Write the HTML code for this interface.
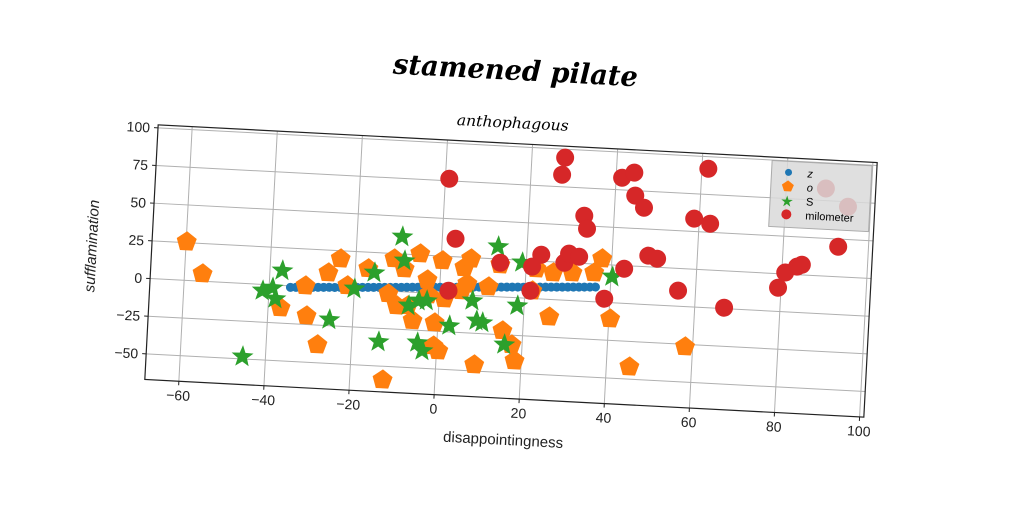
<!DOCTYPE html>
<html><head><meta charset="utf-8"><style>
html,body{margin:0;padding:0;background:#fff;width:1024px;height:512px;overflow:hidden}
text{font-family:"Liberation Sans","DejaVu Sans",sans-serif}
text.script{font-family:"DejaVu Serif","Liberation Serif",serif;font-style:italic}
</style></head><body>
<svg id="chart" width="1024" height="512" xmlns="http://www.w3.org/2000/svg">
<g id="root" transform="rotate(3,511,271)">
<text class="script" x="505" y="80" text-anchor="middle" font-weight="bold" font-size="28" textLength="245" lengthAdjust="spacingAndGlyphs">stamened pilate</text>
<text class="script" x="505" y="128" text-anchor="middle" font-size="15" textLength="112" lengthAdjust="spacingAndGlyphs">anthophagous</text>
<g id="grid"></g>
<g id="marks"></g>
<rect x="151" y="143.5" width="720" height="255" fill="none" stroke="#222" stroke-width="1.2"/>
<g id="ticks"></g>
<text x="512" y="445" text-anchor="middle" font-size="15" fill="#222">disappointingness</text>
<text transform="translate(96,268) rotate(-90)" text-anchor="middle" font-size="15" font-style="italic" fill="#222">sufflamination</text>
<g>
<rect x="766" y="147" width="100" height="66" fill="#d9d9d9" fill-opacity="0.85" stroke="#aaa"/>
<circle cx="783" cy="158" r="3.5" fill="#1f77b4"/>
<text x="802" y="162" font-size="11" font-style="italic">z</text>
<polygon points="783,166 789,170.5 786.5,177 779.5,177 777,170.5" fill="#ff7f0e"/>
<text x="802" y="176" font-size="11" font-style="italic">o</text>
<text x="783" y="192" font-size="15" fill="#2ca02c" text-anchor="middle">★</text>
<text x="802" y="190" font-size="11">S</text>
<circle cx="783" cy="200" r="5" fill="#d62728"/>
<text x="802" y="204" font-size="11">milometer</text>
</g>
</g>
</svg>
<script>
const xTicks=[-60,-40,-20,0,20,40,60,80,100];
const yTicks=[-50,-25,0,25,50,75,100];
const zX=[-35,-33.7,-32.4,-31.1,-29.8,-28.5,-27.2,-25.9,-24.6,-23.3,-22,-20.7,-19.4,-18.1,-16.8,-15.5,-14.2,-12.9,-11.6,-10.3,-9,-7.7,-6.4,-5.1,-3.8,-2.5,-1.2,0.1,1.4,2.7,4,5.3,6.6,7.9,9.2,10.5,11.8,13.1,14.4,15.7,17,18.3,19.6,20.9,22.2,23.5,24.8,26.1,27.4,28.7,30,31.3,32.6,33.9,35.2,36.5];
const zY=[-1,-0.8,-0.6,-0.4,-0.2,0,0.2,0.4,0.5,0.7,0.9,1.1,1.3,1.5,1.7,1.9,2.1,2.3,2.5,2.7,2.9,3.1,3.3,3.5,3.7,3.9,4.1,4.3,4.5,4.7,4.9,5.1,5.3,5.5,5.7,5.9,6.1,6.3,6.5,6.7,6.9,7.1,7.2,7.4,7.6,7.8,8,8.2,8.4,8.6,8.8,9,9.2,9.4,9.6,9.8];
const oX=[-59.9,-55.8,-37.1,-31.5,-30.9,-28,-26.3,-23.6,-21.7,-17,-12.3,-12,-11,-9.9,-7.3,-5,-3,-2.6,-0.8,-0.8,0.4,0.3,5.1,5.5,6.4,7,9,11.4,13.9,15.2,17.5,18.4,22.4,26,26.4,30.9,36,40.3,45.4,58.2,-8.5,1.2,-6,21.7,37.7];
const oY=[25.6,5,-14.8,0.6,-19.2,-38,10,19.7,2.1,14.1,-59,-1.8,21.6,-9.5,-9.1,25.8,8.8,-1,-34.7,-19.4,-37.8,22,2.7,18.1,7.5,24.2,-45.8,6.3,21.3,-22.3,-31.3,-41.8,19.9,-11.5,17.8,18.5,19.3,-10.7,-41.8,-26.6,15.3,-3.2,-18.7,5.2,28.8];
const sX=[-45.4,-39.2,-37.1,-38.4,-25.5,-20,-15.5,-13.7,-9.4,-8.6,-7.1,-4.8,-4.6,-3.3,-2.9,2.7,7.8,9,10.4,13.2,15.8,18.4,19,40.3,-41.5];
const sY=[-48.5,-1.9,9.8,-9,-21,0.3,11.6,-33.9,36.4,20.6,-9,-5.4,-33.2,-38.3,-5.1,-20.9,-3.5,-16.6,-17.7,33.2,-31.5,-5.3,23.4,17.2,-4.2];
const mX=[0.9,3.1,13.9,23.4,21.4,21.3,2.1,28.9,29.9,32.3,33,33.8,27.8,27.3,38.7,41.4,43,44.2,44.7,46.9,48.5,50.6,55.9,58.8,61.5,62.6,66.9,79.3,80.8,83.5,84.6,89.3,94.7,92.9];
const mY=[76.4,36.9,22.6,29.3,21.1,5.1,2.3,24.8,31,29.3,56.6,48.1,94.4,83,2.4,83.1,22.9,86.9,71.7,64,32.4,30.7,10.3,58.5,92,55.7,0.6,15.7,26,30.3,31.7,83,71.7,44.9];
const X0=-68,X1=101,Y0=-67,Y1=102,L=151,T=143.5,W=720,H=255;
function sx(v){return L+(v-X0)/(X1-X0)*W;}
function sy(v){return T+(Y1-v)/(Y1-Y0)*H;}
const NS='http://www.w3.org/2000/svg';
function mk(tag,parent,attrs){const e=document.createElementNS(NS,tag);for(const k in attrs)e.setAttribute(k,attrs[k]);parent.appendChild(e);return e;}
const grid=document.getElementById('grid'),ticks=document.getElementById('ticks'),marks=document.getElementById('marks');
xTicks.forEach(t=>{const x=sx(t);
 const g=mk('line',grid,{x1:x,x2:x,y1:T,y2:T+H,stroke:'#b0b0b0','stroke-width':1});
 
 
 const tk=mk('line',ticks,{x1:x,x2:x,y1:T+H,y2:T+H+4,stroke:'#222'});
 
 
 const lb=mk('text',ticks,{x:x,y:T+H+19,'text-anchor':'middle','font-size':14,fill:'#222'});
 lb.textContent=t<0?'\u2212'+(-t):String(t);
 
 
});
yTicks.forEach(t=>{const y=sy(t);
 const g=mk('line',grid,{x1:L,x2:L+W,y1:y,y2:y,stroke:'#b0b0b0','stroke-width':1});
 
 
 const tk=mk('line',ticks,{x1:L-4,x2:L,y1:y,y2:y,stroke:'#222'});
 
 
 const lb=mk('text',ticks,{x:L-8,y:y+5,'text-anchor':'end','font-size':14,fill:'#222'});
 lb.textContent=t<0?'\u2212'+(-t):String(t);
 
 
});
function pent(cx,cy,r){let p=[];for(let i=0;i<5;i++){const a=-Math.PI/2+i*2*Math.PI/5;p.push((cx+r*Math.cos(a)).toFixed(1)+','+(cy+r*Math.sin(a)).toFixed(1));}return p.join(' ');}
function star(cx,cy,r){let p=[];for(let i=0;i<10;i++){const a=-Math.PI/2+i*Math.PI/5;const rr=i%2?r*0.42:r;p.push((cx+rr*Math.cos(a)).toFixed(1)+','+(cy+rr*Math.sin(a)).toFixed(1));}return p.join(' ');}
zX.forEach((v,i)=>{const c=mk('circle',marks,{cx:sx(v),cy:sy(zY[i]),r:4.5,fill:'#1f77b4'});
 
 });
oX.forEach((v,i)=>{const c=mk('polygon',marks,{points:pent(sx(v),sy(oY[i]),10.5),fill:'#ff7f0e'});
 
 });
sX.forEach((v,i)=>{const c=mk('polygon',marks,{points:star(sx(v),sy(sY[i]),11.5),fill:'#2ca02c'});
 
 });
mX.forEach((v,i)=>{const c=mk('circle',marks,{cx:sx(v),cy:sy(mY[i]),r:9,fill:'#d62728'});
 
 });
</script>
</body></html>
